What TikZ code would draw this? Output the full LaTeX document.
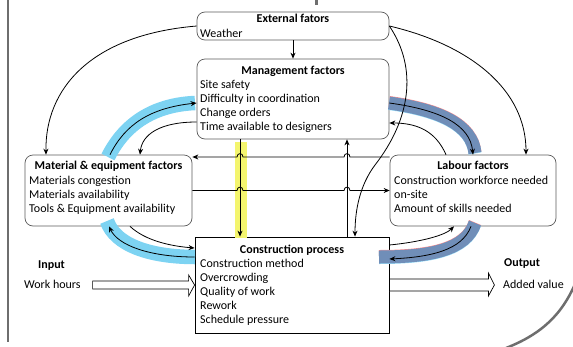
\documentclass[tikz,border=0pt]{standalone}
\usepackage{fontspec}
\setmainfont{Carlito}
\usetikzlibrary{arrows.meta,calc}
\definecolor{hlblue}{RGB}{125,211,242}
\definecolor{hldark}{RGB}{112,142,184}
\definecolor{hlyellow}{RGB}{244,245,110}
\definecolor{framegray}{RGB}{110,110,110}
\definecolor{boxgray}{RGB}{90,90,90}
\begin{document}
\begin{tikzpicture}[x=1pt,y=-1pt,
  every node/.style={font=\fontsize{12}{14.3}\selectfont},
  rbox/.style={draw=boxgray, line width=0.7pt, rounded corners=8pt, inner sep=0pt},
  sbox/.style={draw=black, line width=0.8pt, inner sep=0pt},
  txt/.style={inner sep=0pt, anchor=base west},
  ttl/.style={inner sep=0pt, anchor=base, font=\fontsize{12}{14.3}\selectfont\bfseries},
  conn/.style={draw=black, line width=0.8pt, -{Stealth[length=6pt,width=5pt]}},
  bandlight/.style={draw=hlblue, line width=14.5pt},
  banddark/.style={draw=hldark, line width=13pt},
  blockarrow/.style={draw=black, line width=0.7pt, fill=white, line join=miter}
]
\useasboundingbox (0,0) rectangle (573,346);

% page frame fragments
\draw[framegray, line width=2pt] (8,0) -- (8,342);
\draw[framegray, line width=3pt] (316,0) -- (316,5);
\draw[framegray, line width=2.5pt] (575,284) .. controls (562,314) and (542,334) .. (506,348);

% boxes
\node[rbox, minimum width=192pt, minimum height=28pt] (ext) at (293,26) {};
\node[rbox, minimum width=192pt, minimum height=80pt] (mgmt) at (293,99) {};
\node[rbox, minimum width=167pt, minimum height=71pt] (mat) at (108.5,190.5) {};
\node[rbox, minimum width=166pt, minimum height=71pt] (lab) at (473,190.5) {};
\node[sbox, minimum width=194pt, minimum height=96pt] (proc) at (292,285) {};

% box texts
\node[ttl] (extT) at (293,22.5) {External fators};
\node[txt] (extL) at (200,37) {Weather};

\node[ttl] (mgmtT) at (293,74) {Management factors};
\foreach \t [count=\i] in {Site safety, Difficulty in coordination, Change orders, Time available to designers}
  \node[txt] (mgmtL\i) at (200,{88+14.3*(\i-1)}) {\t};

\node[ttl] (matT) at (108.5,169.5) {Material \& equipment factors};
\foreach \t [count=\i] in {Materials congestion, Materials availability, Tools \& Equipment availability}
  \node[txt] (matL\i) at (29,{184+14*(\i-1)}) {\t};

\node[ttl] (labT) at (473,169.5) {Labour factors};
\foreach \t [count=\i] in {Construction workforce needed, on-site, Amount of skills needed}
  \node[txt] (labL\i) at (394,{184+14*(\i-1)}) {\t};

\node[ttl] (procT) at (292,253) {Construction process};
\foreach \t [count=\i] in {Construction method, Overcrowding, Quality of work, Rework, Schedule pressure}
  \node[txt] (procL\i) at (200,{267+14.2*(\i-1)}) {\t};

\node[txt, font=\fontsize{12}{14.3}\selectfont\bfseries] (inT) at (38,268) {Input};
\node[txt] (inL) at (24,288) {Work hours};
\node[txt, font=\fontsize{12}{14.3}\selectfont\bfseries] (outT) at (504,266.5) {Output};
\node[txt] (outL) at (503,288) {Added value};

% highlight bands
\fill[hlyellow] (234.5,142) rectangle (246.5,238);
\draw[bandlight] (108,157) .. controls (123,127) and (150,105) .. (195,103);
\draw[bandlight] (195,257) .. controls (150,257) and (115,245) .. (107,221);
\draw[banddark, draw=red!45, yshift=0.5pt] (389,103) .. controls (440,110) and (472,125) .. (475,153);
\draw[banddark, draw=cyan!40, yshift=-0.5pt] (389,103) .. controls (440,110) and (472,125) .. (475,153);
\draw[banddark] (389,103) .. controls (440,110) and (472,125) .. (475,153);
\draw[banddark, draw=red!45, yshift=0.5pt] (475,223) .. controls (466,250) and (430,257) .. (379,257);
\draw[banddark, draw=cyan!40, yshift=-0.5pt] (475,223) .. controls (466,250) and (430,257) .. (379,257);
\draw[banddark] (475,223) .. controls (466,250) and (430,257) .. (379,257);

% connectors
\draw[conn] (ext.south) -- (mgmt.north);
\draw[conn] (ext.west) .. controls +(-107,9) and +(-1,-65) .. ($(mat.north)+(-62.5,0)$);
\draw[conn] (ext.east) .. controls +(81,19) and +(0,-65) .. ($(lab.north)+(53,0)$);
\draw[conn] (ext.east) .. controls +(29,43) and +(35,-45) .. (375,165)
  .. controls +(-15,20) and +(0,-27) .. ($(proc.north)+(63,0)$);

\draw[conn] ($(mat.north)+(1.5,0)$) .. controls +(15,-30) and +(-47,5) .. ($(mgmt.west)+(0,4)$);
\draw[conn] ($(mgmt.west)+(0,23)$) .. controls +(-37,0) and +(2,-20) .. ($(mat.north)+(31.5,0)$);
\draw[conn] ($(mgmt.east)+(0,4)$) .. controls +(51,7) and +(-3,-30) .. (lab.north);
\draw[conn] ($(lab.north)+(-27,0)$) .. controls +(-11,-25) and +(26,0) .. ($(mgmt.east)+(0,24)$);

\draw[conn] ($(mgmt.south)+(-53,0)$) -- ($(proc.north)+(-52,0)$);
\draw[conn] ($(proc.north)+(55,0)$) -- ($(mgmt.south)+(54,0)$);

% horizontal links hop over the vertical ones
\draw[conn] ($(lab.west)+(0,-33.5)$) -- (350,157) .. controls (350,152.5) and (344,152.5) .. (344,157)
  -- (243,157) .. controls (243,152.5) and (237,152.5) .. (237,157) -- ($(mat.east)+(0,-33.5)$);
\draw[conn] (mat.east) -- (237,190.5) .. controls (237,186) and (243,186) .. (243,190.5)
  -- (344,190.5) .. controls (344,186) and (350,186) .. (350,190.5) -- (lab.west);

\draw[conn] ($(mat.south)+(21.5,0)$) .. controls +(15,14) and +(-25,-2) .. ($(proc.west)+(0,-37)$);
\draw[conn] ($(proc.west)+(0,-28)$) .. controls +(-45,0) and +(9,19) .. ($(mat.south)+(0.5,0)$);
\draw[conn] ($(proc.east)+(0,-40)$) .. controls +(31,-3) and +(-9,9) .. ($(lab.south)+(-19,0)$);
\draw[conn] ($(lab.south)+(-2,0)$) .. controls +(-9,24) and +(41,-2) .. ($(proc.east)+(0,-26)$);

% input and output block arrows
\begin{scope}[shift={(proc.west)}]
  \draw[blockarrow] (-102,-4) -- (-6,-4) -- (-6,-10) -- (0,0) -- (-6,11) -- (-6,4) -- (-102,4) -- cycle;
\end{scope}
\begin{scope}[shift={(proc.east)}]
  \draw[blockarrow] (0,-6) -- (99,-6) -- (99,-12) -- (105,0) -- (99,11) -- (99,6) -- (0,6) -- cycle;
\end{scope}
\end{tikzpicture}
\end{document}
